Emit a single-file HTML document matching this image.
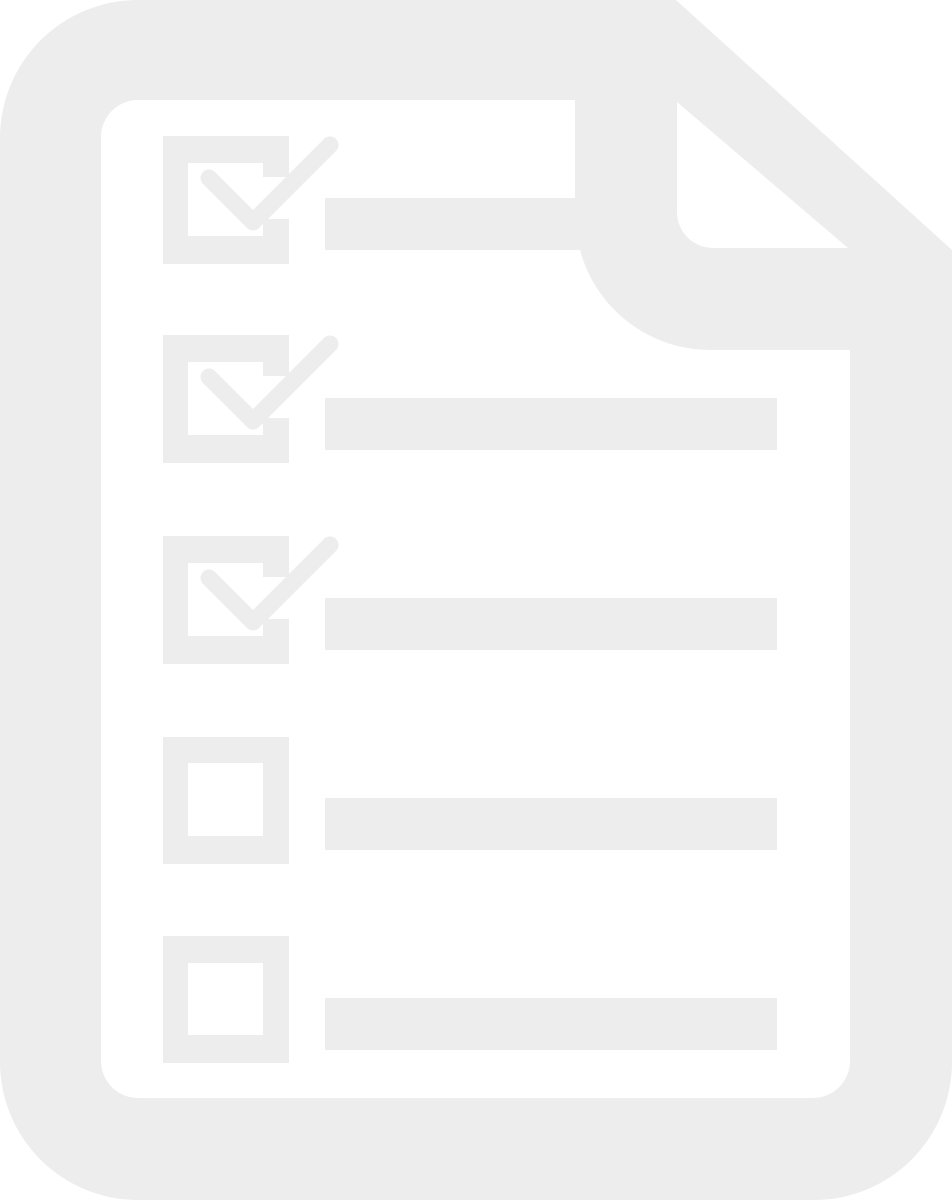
<!DOCTYPE html>
<html><head><meta charset="utf-8"><style>
html,body{margin:0;padding:0;background:#fff;}
svg{display:block;}
</style></head><body>
<svg width="952" height="1200" viewBox="0 0 952 1200" xmlns="http://www.w3.org/2000/svg">
  <path fill="#ededed" d="M138,0 H676 L952,250 V1062 A138,138 0 0 1 814,1200 H138 A138,138 0 0 1 0,1062 V138 A138,138 0 0 1 138,0 Z"/>
  <path fill="#fff" d="M138,100 H575 V250 H580 A135,135 0 0 0 712,350 H850 V1061 A37,37 0 0 1 813,1098 H138 A37,37 0 0 1 101,1061 V137 A37,37 0 0 1 138,100 Z"/>
  <path fill="#fff" d="M677,102 L848,248 H713 A36,36 0 0 1 677,212 Z"/>
  <g fill="#ededed">
    <rect x="325" y="198" width="250" height="52"/>
    <rect x="325" y="398" width="452" height="52"/>
    <rect x="325" y="598" width="452" height="52"/>
    <rect x="325" y="798" width="452" height="52"/>
    <rect x="325" y="998" width="452" height="52"/>
  </g>
  <g transform="translate(0,0)">
    <path fill="#ededed" fill-rule="evenodd" d="M163,136 H289 V177 H263 V163 H188 V236 H263 V219 H289 V264 H163 Z"/>
    <polyline points="209,178 253,222 330,145" fill="none" stroke="#ededed" stroke-width="17" stroke-linecap="round" stroke-linejoin="round"/>
  </g>
  <g transform="translate(0,199)">
    <path fill="#ededed" fill-rule="evenodd" d="M163,136 H289 V177 H263 V163 H188 V236 H263 V219 H289 V264 H163 Z"/>
    <polyline points="209,178 253,222 330,145" fill="none" stroke="#ededed" stroke-width="17" stroke-linecap="round" stroke-linejoin="round"/>
  </g>
  <g transform="translate(0,400)">
    <path fill="#ededed" fill-rule="evenodd" d="M163,136 H289 V177 H263 V163 H188 V236 H263 V219 H289 V264 H163 Z"/>
    <polyline points="209,178 253,222 330,145" fill="none" stroke="#ededed" stroke-width="17" stroke-linecap="round" stroke-linejoin="round"/>
  </g>
  <g transform="translate(0,600)">
    <rect x="163" y="137" width="126" height="127" fill="#ededed"/>
    <rect x="188" y="163" width="75" height="73" fill="#fff"/>
  </g>
  <g transform="translate(0,799)">
    <rect x="163" y="137" width="126" height="127" fill="#ededed"/>
    <rect x="188" y="164" width="75" height="72" fill="#fff"/>
  </g>
</svg>
</body></html>
